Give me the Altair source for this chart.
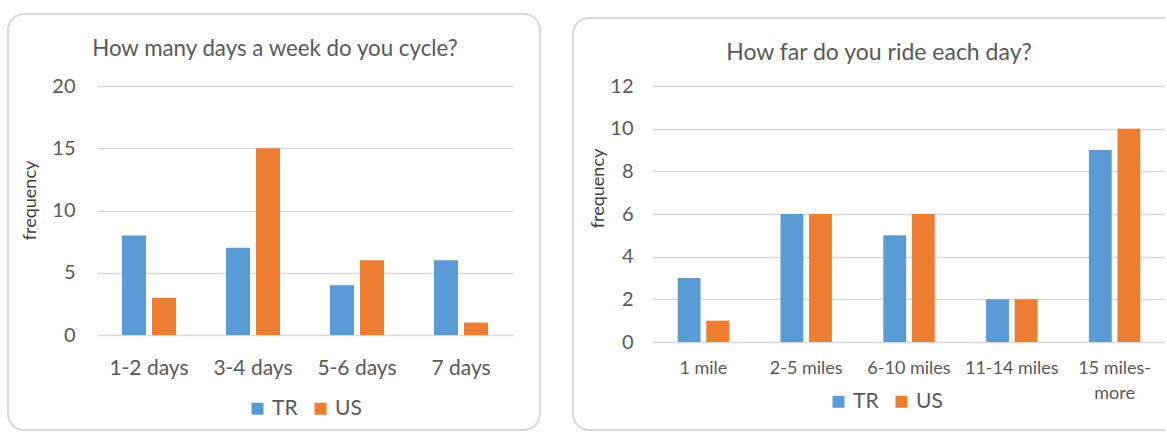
import altair as alt
import pandas as pd

# ---- data ----
series = ["TR", "US"]
days_cats = ["1-2 days", "3-4 days", "5-6 days", "7 days"]
days_tr = [8, 7, 4, 6]
days_us = [3, 15, 6, 1]

dist_cats = ["1 mile", "2-5 miles", "6-10 miles", "11-14 miles", "15 miles-more"]
dist_tr = [3, 6, 5, 2, 9]
dist_us = [1, 6, 6, 2, 10]

left_ticks = [0, 5, 10, 15, 20]
right_ticks = [0, 2, 4, 6, 8, 10, 12]

left_title = "How many days a week do you cycle?"
right_title = "How far do you ride each day?"

colors = ["#5B9BD5", "#ED7D31"]
TEXT = "#595959"
GRID = "#D9D9D9"
FONT = "Lato"


def long_df(cats, tr, us):
    rows = []
    for c, a, b in zip(cats, tr, us):
        rows.append({"cat": c, "series": "TR", "value": a})
        rows.append({"cat": c, "series": "US", "value": b})
    return pd.DataFrame(rows)


def one():
    return alt.Chart(pd.DataFrame({"k": [0]}))


def panel(cats, tr, us, ticks, title, w, h, pin, poff, tick_fs, lab_fs, lab_pad,
          ylab_pad, ytitle_x, ytitle_y, title_x, title_y, title_fs, leg_x, leg_y,
          frame, label_expr=None, extra_top=None, cover_right=False):
    df = long_df(cats, tr, us)
    axis_kw = dict(title=None, labelAngle=0, domain=False, ticks=False, tickSize=0,
                   labelFontSize=lab_fs, labelColor=TEXT, labelFont=FONT,
                   labelPadding=lab_pad, labelLineHeight=25, grid=False)
    if label_expr:
        axis_kw["labelExpr"] = label_expr
    bars = alt.Chart(df).mark_bar().encode(
        x=alt.X("cat:N", sort=cats, axis=alt.Axis(**axis_kw),
                scale=alt.Scale(paddingInner=pin, paddingOuter=pin / 2)),
        xOffset=alt.XOffset("series:N", sort=series,
                            scale=alt.Scale(paddingInner=poff, paddingOuter=0)),
        y=alt.Y("value:Q",
                scale=alt.Scale(domain=[ticks[0], ticks[-1]], nice=False),
                axis=alt.Axis(values=ticks, title="frequency", domain=False, ticks=False,
                              tickSize=0, grid=True, gridColor=GRID, gridWidth=1.6,
                              labelFontSize=tick_fs, labelColor=TEXT, labelFont=FONT,
                              labelPadding=ylab_pad, titleFont=FONT, titleFontSize=18,
                              titleColor="#404040", titleFontWeight="normal",
                              titleAngle=270, titleAlign="center",
                              titleBaseline="middle", titleX=ytitle_x, titleY=ytitle_y)),
        color=alt.Color("series:N", sort=series,
                        scale=alt.Scale(domain=series, range=colors),
                        legend=alt.Legend(title=None, orient="none", legendX=leg_x,
                                          legendY=leg_y, direction="horizontal",
                                          symbolType="square", symbolSize=144,
                                          symbolStrokeWidth=0, labelFontSize=21,
                                          labelFont=FONT, labelColor=TEXT,
                                          labelOffset=4, columnPadding=12)),
    )
    fx, fx2, fy, fy2 = frame
    if cover_right:
        fr = one().mark_rect(
            fillOpacity=0, stroke=GRID, strokeWidth=2,
            cornerRadiusTopLeft=16, cornerRadiusBottomLeft=16,
            cornerRadiusTopRight=0, cornerRadiusBottomRight=0,
        )
    else:
        fr = one().mark_rect(fillOpacity=0, stroke=GRID, strokeWidth=2, cornerRadius=16)
    fr = fr.encode(x=alt.value(fx), x2=alt.value(fx2), y=alt.value(fy), y2=alt.value(fy2))
    ttl = one().mark_text(
        align="center", baseline="alphabetic", fontSize=title_fs, font=FONT, color=TEXT
    ).encode(x=alt.value(title_x), y=alt.value(title_y), text=alt.value(title))
    layers = [fr, bars, ttl]
    if cover_right:
        cov = one().mark_rule(color="white", strokeWidth=2).encode(
            x=alt.value(fx2), y=alt.value(fy - 2), y2=alt.value(fy2 + 2))
        layers.append(cov)
    if extra_top is not None:
        inv = one().mark_rule(strokeOpacity=0).encode(
            x=alt.value(0), x2=alt.value(10), y=alt.value(extra_top))
        layers.append(inv)
    return alt.layer(*layers).properties(width=w, height=h)


left = panel(days_cats, days_tr, days_us, left_ticks, left_title,
             416, 249, 0.48, 0.2, 20, 21, 22, 22, -67, 114, 178, -30, 22.3, 150, 312,
             (-89, 443, -72, 344))

right = panel(dist_cats, dist_tr, dist_us, right_ticks, right_title,
              514, 256, 0.5, 0.2, 20, 18, 17, 19, -54, 102, 227, -26, 23, 176, 305,
              (-79, 514, -68, 344),
              label_expr="datum.label == '15 miles-more' ? ['15 miles-', 'more'] : datum.label",
              extra_top=-72, cover_right=True)

chart = alt.hconcat(left, right, spacing=31).resolve_scale(
    color="independent", x="independent", y="independent", xOffset="independent"
).resolve_legend(color="independent").properties(
    padding={"left": 7, "top": 13, "right": 0, "bottom": 0},
    background="white",
).configure_view(stroke=None)

chart.save("out.html", embed_options={"renderer": "svg", "actions": False})
